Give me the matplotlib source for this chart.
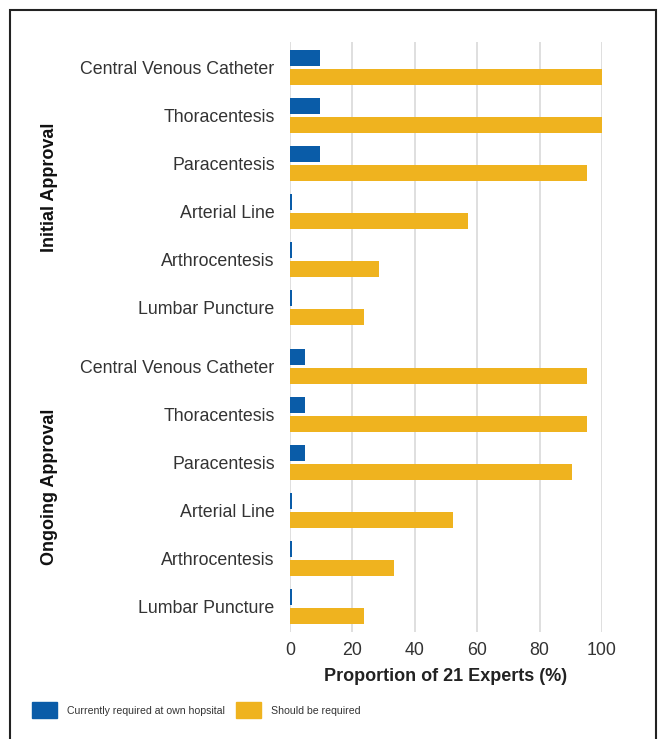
import numpy as np
import matplotlib
matplotlib.use('Agg')
import matplotlib.pyplot as plt
from matplotlib.patches import Rectangle
from matplotlib.transforms import blended_transform_factory

# Data (percent of 21 experts)
procedures = ['Central Venous Catheter', 'Thoracentesis', 'Paracentesis',
              'Arterial Line', 'Arthrocentesis', 'Lumbar Puncture']
groups = ['Initial Approval', 'Ongoing Approval']
current_initial = [9.5, 9.5, 9.5, 0.6, 0.6, 0.6]
should_initial = [100, 100, 95.2, 57.1, 28.6, 23.8]
current_ongoing = [4.8, 4.8, 4.8, 0.6, 0.6, 0.6]
should_ongoing = [95.2, 95.2, 90.5, 52.4, 33.3, 23.8]
legend_labels = ['Currently required at own hopsital', 'Should be required']

blue = '#0a5ca8'
orange = '#efb31f'
text_color = '#333333'

plt.rcParams['font.family'] = ['Liberation Sans', 'DejaVu Sans']

fig = plt.figure(figsize=(6.61, 7.39), dpi=100)
ax = fig.add_axes([290 / 661, (739 - 632) / 739, 312 / 661, 590 / 739])

# y positions: two blocks of six with a small gap between them
gap = 11 / 48
pos_initial = np.arange(len(procedures))
pos_ongoing = np.arange(len(procedures)) + len(procedures) + gap
positions = np.concatenate([pos_initial, pos_ongoing])
current = current_initial + current_ongoing
should = should_initial + should_ongoing

h = 16 / 48
off = 9.5 / 48
ax.barh(positions - off, current, height=h, color=blue, zorder=3)
ax.barh(positions + off, should, height=h, color=orange, zorder=3)

ax.set_xlim(0, 100)
ax.set_ylim(positions[-1] + 25.5 / 48, -25.5 / 48)
ax.set_xticks(range(0, 101, 20))
ax.set_yticks(positions)
ax.set_yticklabels(procedures * 2)
ax.tick_params(axis='both', length=0, labelsize=12.8, labelcolor=text_color)
ax.tick_params(axis='y', pad=11)
ax.tick_params(axis='x', pad=7)
ax.grid(axis='x', color='#d9d9d9', linewidth=1.2, zorder=0)
ax.set_axisbelow(True)
for s in ax.spines.values():
    s.set_visible(False)
ax.set_xlabel('Proportion of 21 Experts (%)', fontsize=13, fontweight='bold',
              color='#222222', labelpad=7)

# Group labels at the left
trans = blended_transform_factory(fig.transFigure, ax.transData)
ax.text(50 / 661, pos_initial.mean(), groups[0], rotation=90, transform=trans,
        ha='center', va='center', fontsize=13, fontweight='bold', color='#111111')
ax.text(50 / 661, pos_ongoing.mean(), groups[1], rotation=90, transform=trans,
        ha='center', va='center', fontsize=13, fontweight='bold', color='#111111')

# Legend drawn by hand in figure pixels
ly = (739 - 711) / 739
for x0, c, lab in [(32, blue, legend_labels[0]), (236, orange, legend_labels[1])]:
    fig.patches.append(Rectangle((x0 / 661, (739 - 718) / 739), 25 / 661, 16 / 739,
                                 transform=fig.transFigure, color=c))
    fig.text((x0 + 35) / 661, ly, lab, ha='left', va='center', fontsize=7.6,
             color=text_color)

# Outer frame (bottom edge runs off the image)
fig.patches.append(Rectangle((10 / 661, -0.05), 646 / 661, (739 - 10) / 739 + 0.05,
                             transform=fig.transFigure, fill=False,
                             edgecolor='#222222', linewidth=1.5))

fig.savefig('out.png', dpi=100)
